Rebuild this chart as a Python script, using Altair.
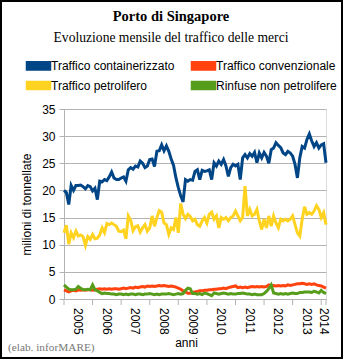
import altair as alt
import pandas as pd

# ---------------- data ----------------
months = list(range(111))  # Jan 2005 .. Mar 2014

containerizzato = [
    20.0, 19.6, 17.4, 20.9, 20.0, 20.9, 20.9, 21.0, 20.7, 20.3,
    20.9, 20.7, 19.9, 20.4, 18.3, 21.7, 21.6, 22.0, 21.8, 22.5,
    23.4, 22.3, 22.0, 22.0, 22.3, 22.5, 21.7, 23.8, 24.2, 23.9,
    24.5, 24.3, 25.4, 25.0, 24.2, 24.5, 25.7, 25.8, 24.4, 27.2,
    27.3, 28.4, 27.3, 28.2, 27.2, 25.8, 24.6, 22.3, 20.5, 19.0,
    17.9, 22.0, 21.7, 22.0, 21.9, 23.5, 23.8, 22.0, 23.7, 23.5,
    23.6, 23.8, 22.0, 25.1, 24.5, 25.4, 24.8, 25.7, 24.5, 22.6,
    24.2, 24.8, 24.5, 24.8, 22.0, 26.0, 26.6, 26.0, 26.8, 26.3,
    27.0, 25.1, 26.9, 26.0, 27.0, 26.3, 25.0, 27.5, 27.8, 28.8,
    28.3, 27.9, 26.9, 26.6, 27.2, 26.9, 26.3, 24.8, 22.3, 26.0,
    28.1, 27.8, 29.4, 30.4, 29.1, 28.1, 28.8, 27.8, 28.4, 28.6,
    25.1,
]
convenzionale = [
    1.7, 1.5, 1.3, 1.5, 1.6, 1.5, 1.7, 1.6, 1.7, 1.6,
    1.7, 1.7, 1.6, 1.7, 1.8, 1.9, 1.8, 1.9, 1.8, 1.9,
    1.8, 1.9, 1.9, 1.8, 1.9, 2.0, 1.9, 2.0, 2.1, 2.0,
    2.2, 2.1, 2.2, 2.3, 2.2, 2.4, 2.3, 2.4, 2.3, 2.4,
    2.5, 2.4, 2.5, 2.4, 2.3, 2.4, 2.3, 2.2, 2.0, 1.8,
    1.5, 1.3, 1.05, 1.05, 1.2, 1.3, 1.4, 1.5, 1.5, 1.6,
    1.6, 1.7, 1.7, 1.8, 1.8, 1.9, 1.9, 2.0, 1.9, 2.1,
    2.2, 2.3, 2.4, 2.1, 2.2, 2.1, 2.2, 2.1, 2.2, 2.3,
    2.2, 2.3, 2.2, 2.3, 2.2, 2.3, 2.6, 2.4, 2.5, 2.4,
    2.5, 2.4, 2.5, 2.4, 2.6, 2.5, 2.6, 2.7, 2.8, 2.8,
    2.9, 2.8, 2.7, 2.8, 2.7, 2.8, 2.6, 2.5, 2.4, 2.2,
    2.0,
]
petrolifero = [
    12.2, 13.6, 10.1, 12.2, 11.3, 12.5, 11.6, 11.8, 11.5, 9.9,
    11.5, 11.0, 11.9, 11.1, 11.2, 11.8, 13.1, 12.2, 13.9, 13.7,
    14.0, 13.7, 13.4, 12.5, 12.4, 12.7, 11.1, 15.3, 14.5, 12.6,
    13.3, 13.5, 12.3, 13.1, 13.7, 12.5, 13.1, 15.3, 13.4, 15.0,
    16.3, 16.0, 14.0, 13.7, 11.9, 13.1, 12.8, 15.0, 12.2, 17.6,
    15.6, 14.8, 15.6, 15.2, 14.4, 14.7, 13.7, 13.4, 14.4, 15.0,
    14.0, 15.6, 16.0, 14.7, 15.3, 13.1, 15.0, 14.7, 15.0, 14.4,
    15.0, 15.3, 16.2, 15.3, 14.4, 15.0, 20.8, 15.3, 16.5, 15.3,
    15.6, 16.5, 14.4, 12.8, 14.7, 13.1, 15.3, 13.4, 15.3, 14.0,
    13.1, 14.7, 14.4, 14.7, 14.4, 14.7, 15.3, 13.7, 12.2, 11.6,
    14.7, 17.0, 15.6, 15.9, 15.6, 16.2, 17.2, 16.5, 15.0, 15.9,
    13.7,
]
rinfuse = [
    2.6, 2.2, 1.8, 1.7, 1.7, 1.8, 2.3, 2.0, 1.7, 1.7,
    1.8, 1.7, 2.6, 1.7, 1.5, 1.2, 1.0, 1.1, 1.0, 1.0,
    0.9, 0.9, 0.8, 0.9, 0.9, 0.8, 0.9, 0.8, 0.9, 0.9,
    0.8, 0.9, 0.9, 0.8, 0.9, 0.9, 1.0, 0.9, 0.8, 0.9,
    0.8, 0.9, 0.9, 0.9, 1.0, 0.9, 0.8, 0.9, 1.0, 0.9,
    1.0, 1.6, 2.0, 1.9, 1.0, 1.0, 0.9, 1.0, 0.8, 1.1,
    1.0, 0.8, 0.6, 1.1, 1.0, 0.9, 1.0, 1.1, 1.0, 0.9,
    1.0, 0.9, 0.9, 1.0, 1.0, 1.1, 1.0, 0.9, 0.9, 0.8,
    0.9, 0.8, 0.8, 0.8, 1.0, 1.4, 1.9, 2.6, 1.1, 1.0,
    0.9, 1.0, 0.9, 1.0, 0.9, 1.0, 1.1, 1.0, 1.0, 1.2,
    1.2, 1.3, 1.3, 1.3, 1.2, 1.4, 1.3, 1.1, 1.6, 1.2,
    1.0,
]

series_names = [
    "Traffico containerizzato",
    "Traffico convenzionale",
    "Traffico petrolifero",
    "Rinfuse non petrolifere",
]
series_values = [containerizzato, convenzionale, petrolifero, rinfuse]
series_colors = ["#004586", "#ff420e", "#ffd320", "#579d1c"]
# legend is filled column by column: list entries so rows read as in the reference
legend_order = [0, 2, 1, 3]

year_boundaries = [0, 12, 24, 36, 48, 60, 72, 84, 96, 108, 110]
year_label_pos = [6, 18, 30, 42, 54, 66, 78, 90, 102, 109]
year_labels = ["2005", "2006", "2007", "2008", "2009", "2010",
               "2011", "2012", "2013", "2014"]
y_ticks = [0, 5, 10, 15, 20, 25, 30, 35]

title_text = ["Porto di Singapore"]
subtitle_text = ["Evoluzione mensile del traffico delle merci"]
y_title = "milioni di tonnellate"
x_title = "anni"
source_note = ["(elab. inforMARE)"]

# ---------------- tables ----------------
rows = []
for name, vals in zip(series_names, series_values):
    for m, v in zip(months, vals):
        rows.append({"mese": m, "valore": v, "serie": name})
df = pd.DataFrame(rows)
ticks_df = pd.DataFrame({"pos": year_boundaries})
years_df = pd.DataFrame({"pos": year_label_pos, "anno": year_labels})
note_df = pd.DataFrame({"t": source_note})
title_df = pd.DataFrame({"t": title_text})
subtitle_df = pd.DataFrame({"t": subtitle_text})
frame_df = pd.DataFrame({"k": [0]})

legend_domain = [series_names[i] for i in legend_order]
legend_range = [series_colors[i] for i in legend_order]

W, H = 262, 190
GRID = "#b3b3b3"
SANS = "Liberation Sans"
SERIF = "Liberation Serif"

# flat rectangular legend swatch made of stacked strokes
SWATCH = ("M-1.5,-0.45L1.5,-0.45M-1.5,-0.22L1.5,-0.22M-1.5,0L1.5,0"
          "M-1.5,0.22L1.5,0.22M-1.5,0.45L1.5,0.45")

x_scale = alt.Scale(domain=[0, 110], nice=False, zero=False)
y_scale = alt.Scale(domain=[0, 35], nice=False)

lines = alt.Chart(df).mark_line(strokeWidth=3).encode(
    x=alt.X("mese:Q", scale=x_scale,
            axis=alt.Axis(values=year_boundaries, ticks=False, labels=False,
                          grid=False, domainColor=GRID,
                          title=x_title, titleFont=SANS, titleFontSize=12,
                          titleFontWeight="normal", titleColor="#000",
                          titleX=122, titleY=47, titleAlign="center",
                          titleBaseline="alphabetic")),
    y=alt.Y("valore:Q", scale=y_scale,
            axis=alt.Axis(values=y_ticks, grid=True, gridColor=GRID,
                          domainColor=GRID, tickColor=GRID, tickSize=5,
                          labelPadding=4, labelFont=SANS, labelFontSize=12,
                          labelColor="#000", title=y_title, titleFont=SANS,
                          titleFontSize=12, titleFontWeight="normal",
                          titleColor="#000", titlePadding=8)),
    color=alt.Color("serie:N",
                    scale=alt.Scale(domain=legend_domain, range=legend_range),
                    legend=alt.Legend(title=None, orient="none", columns=2,
                                      legendX=-35, legendY=-53,
                                      symbolType=SWATCH, symbolSize=289,
                                      symbolStrokeWidth=2, labelOffset=3,
                                      columnPadding=11, rowPadding=2,
                                      labelFont=SANS, labelFontSize=12,
                                      labelColor="#000", padding=0,
                                      labelLimit=300)),
    order=alt.Order("mese:Q"),
)

xticks = alt.Chart(ticks_df).mark_rule(color=GRID, strokeWidth=1).encode(
    x=alt.X("pos:Q", scale=x_scale),
    y=alt.value(H),
    y2=alt.value(H + 6),
)

year_text = alt.Chart(years_df).mark_text(
    font=SANS, fontSize=12, color="#000", angle=90, align="left",
    baseline="middle").encode(
    x=alt.X("pos:Q", scale=x_scale),
    y=alt.value(H + 9),
    text="anno:N",
)

title = alt.Chart(title_df).mark_text(
    font=SERIF, fontSize=14.5, fontWeight="bold", color="#000",
    align="center", baseline="alphabetic").encode(
    text="t:N", x=alt.value(107), y=alt.value(-88.5))

subtitle = alt.Chart(subtitle_df).mark_text(
    font=SERIF, fontSize=13.6, color="#000",
    align="center", baseline="alphabetic").encode(
    text="t:N", x=alt.value(107), y=alt.value(-67))

note = alt.Chart(note_df).mark_text(
    font=SERIF, fontSize=11.3, color="#777777", align="left",
    baseline="alphabetic").encode(
    text="t:N", x=alt.value(-56), y=alt.value(242))

frame = alt.Chart(frame_df).mark_rect(
    fill=None, fillOpacity=0, stroke="#000", strokeWidth=2).encode(
    x=alt.value(-63), x2=alt.value(278), y=alt.value(-108), y2=alt.value(249))

chart = alt.layer(lines, xticks, year_text, title, subtitle, note, frame).properties(
    width=W, height=H,
    autosize=alt.AutoSizeParams(type="none"),
    padding={"left": 64, "top": 109, "right": 17, "bottom": 60},
).configure_view(stroke=GRID, strokeWidth=1).configure(background="white")

chart.save("out.html", embed_options={"renderer": "svg", "actions": False})
